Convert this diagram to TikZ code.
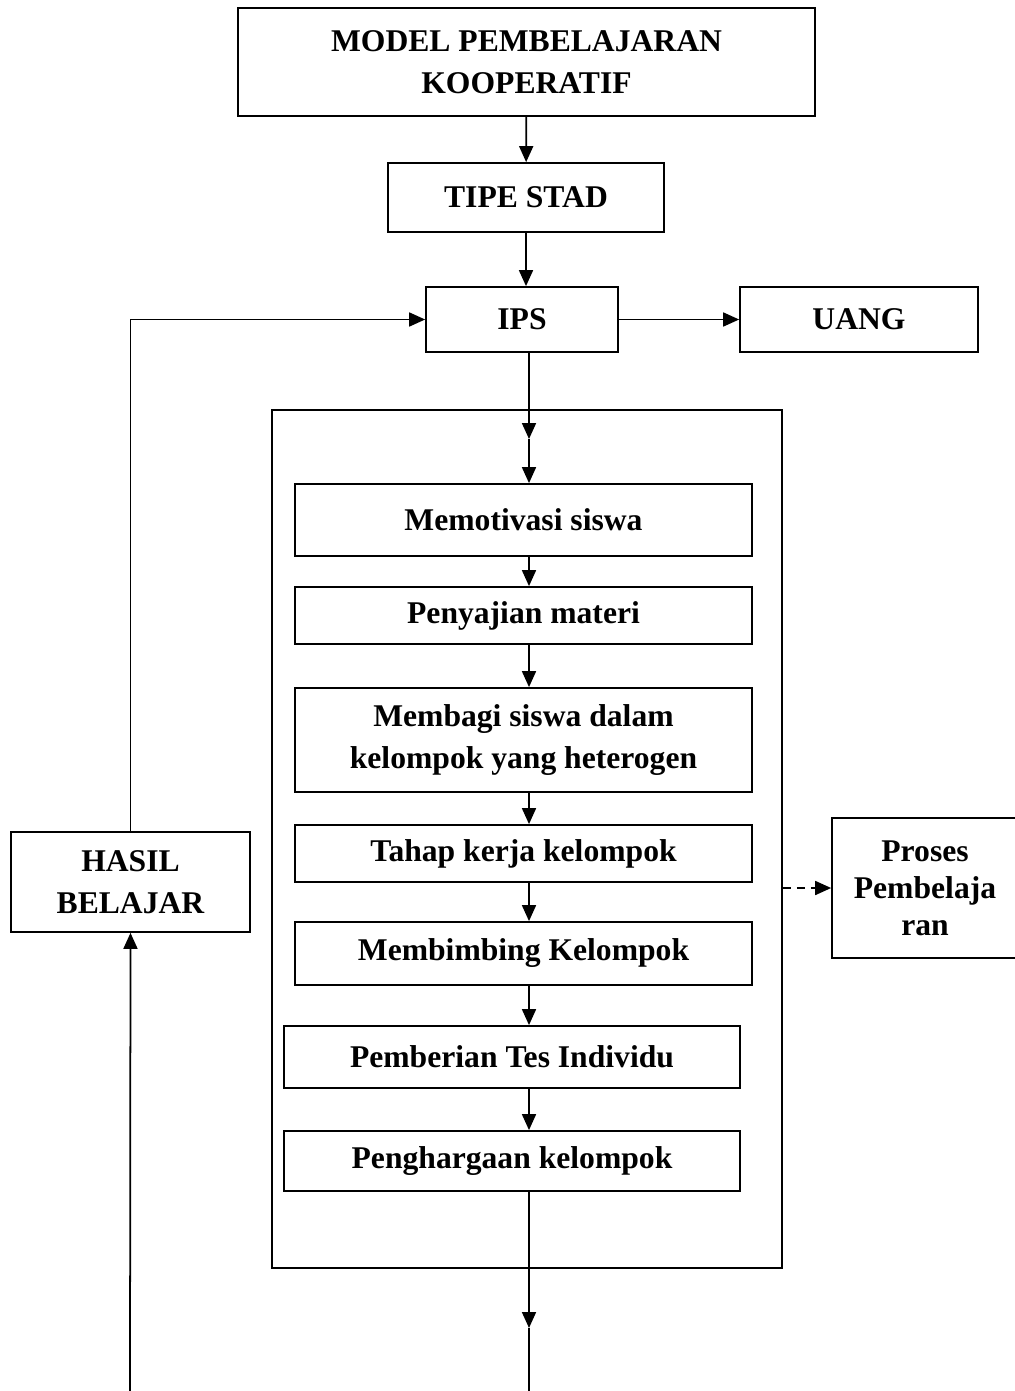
\documentclass[tikz,border=0pt]{standalone}
\usepackage{fontspec}
\setmainfont{Liberation Serif}
\usetikzlibrary{arrows.meta}

\begin{document}
\begin{tikzpicture}[x=0.02cm, y=-0.02cm,
		kotak/.style={draw, line width=1pt, align=center, inner sep=2pt, font=\fontsize{18}{24}\selectfont\bfseries},
		panah/.style={-{Triangle[length=0.32cm, width=0.28cm]}, line width=1pt}]
	\useasboundingbox (0,0) rectangle (1014,1391);
	% bingkai langkah-langkah STAD
	\node[draw, line width=1pt, minimum width=10.2cm, minimum height=17.16cm] (frame) at (527,839) {};
	\coordinate (sb) at (529,0);
	\coordinate (ujung) at (529,1391);
	\coordinate (hbawah) at (130,1391);

	\node[kotak, minimum width=11.54cm, minimum height=2.16cm] (model) at (526.5,62) {MODEL PEMBELAJARAN\\KOOPERATIF};
	\node[kotak, minimum width=5.52cm, minimum height=1.38cm] (tipe) at (526,197.5) {TIPE STAD};
	\node[kotak, minimum width=3.84cm, minimum height=1.30cm] (ips) at (522,319.5) {IPS};
	\node[kotak, minimum width=4.76cm, minimum height=1.30cm] (uang) at (859,319.5) {UANG};

	\node[kotak, minimum width=9.14cm, minimum height=1.44cm] (memo) at (523.5,520) {Memotivasi siswa};
	\node[kotak, minimum width=9.14cm, minimum height=1.14cm] (saji) at (523.5,615.5) {Penyajian materi};
	\node[kotak, minimum width=9.14cm, minimum height=2.08cm] (bagi) at (523.5,740) {Membagi siswa dalam\\kelompok yang heterogen};
	\node[kotak, minimum width=9.14cm, minimum height=1.14cm] (kerja) at (523.5,853.5) {Tahap kerja kelompok};
	\node[kotak, minimum width=9.14cm, minimum height=1.26cm] (bimbing) at (523.5,953.5) {Membimbing Kelompok};
	\node[kotak, minimum width=9.12cm, minimum height=1.24cm] (tes) at (512,1057) {Pemberian Tes Individu};
	\node[kotak, minimum width=9.12cm, minimum height=1.20cm] (harga) at (512,1161) {Penghargaan kelompok};

	\node[kotak, minimum width=4.78cm, minimum height=2.00cm] (hasil) at (130.5,882) {HASIL\\BELAJAR};
	\node[kotak, font=\fontsize{18}{21}\selectfont\bfseries, minimum width=3.72cm, minimum height=2.80cm] (proses) at (925,888) {Proses\\Pembelaja\\ran};

	\coordinate (tengah1) at (529,439);
	\coordinate (tengah2) at (529,1328);

	\draw[panah] (model) -- (tipe);
	\draw[panah] (tipe) -- (tipe |- ips.north);
	\draw[panah] (ips) -- (uang);
	\draw[panah] (ips.south -| sb) -- (tengah1);
	\draw[panah] (tengah1) -- (memo.north -| sb);
	\draw[panah] (memo.south -| sb) -- (saji.north -| sb);
	\draw[panah] (saji.south -| sb) -- (bagi.north -| sb);
	\draw[panah] (bagi.south -| sb) -- (kerja.north -| sb);
	\draw[panah] (kerja.south -| sb) -- (bimbing.north -| sb);
	\draw[panah] (bimbing.south -| sb) -- (tes.north -| sb);
	\draw[panah] (tes.south -| sb) -- (harga.north -| sb);
	\draw[panah] (harga.south -| sb) -- (tengah2);
	\draw[line width=1pt] (tengah2) -- (ujung);

	\draw[panah] (hbawah) -- (hasil.south);
	\draw[panah] (hasil.north) |- (ips.west);
	\draw[panah, dash pattern=on 0.16cm off 0.12cm] (frame.east |- proses.west) -- (proses.west);
\end{tikzpicture}
\end{document}
